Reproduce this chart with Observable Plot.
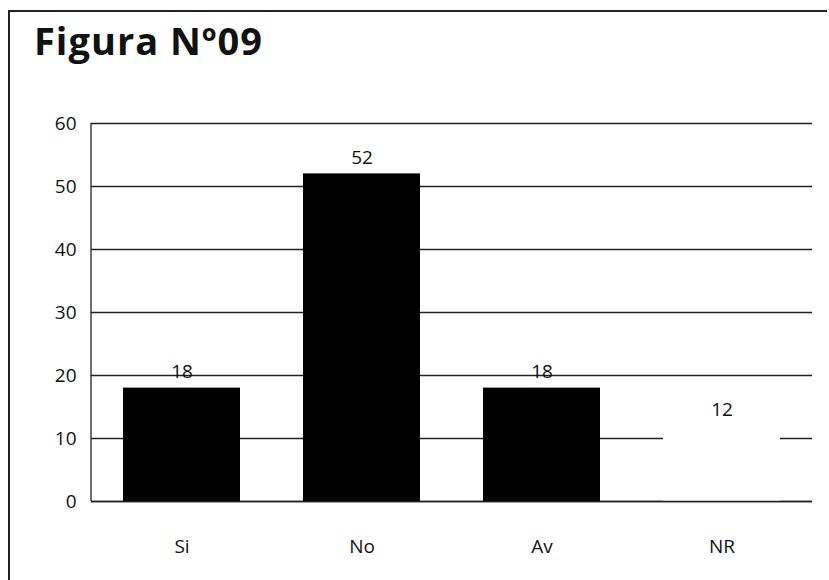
<!DOCTYPE html>
<html>
<head>
<meta charset="utf-8">
<script src="https://cdn.jsdelivr.net/npm/d3@7"></script>
<script src="https://cdn.jsdelivr.net/npm/@observablehq/plot@0.6"></script>
<style>
  html, body { margin: 0; padding: 0; background: #fff; }
  #wrap { position: relative; width: 829px; height: 580px; overflow: hidden; }
  #frame { position: absolute; left: 8px; top: 10px; width: 819px; height: 600px;
           border-left: 2px solid #222; border-top: 2px solid #222; box-sizing: border-box; }
  #title { position: absolute; left: 34px; top: 14px; height: 86px;
           font-family: "Open Sans", sans-serif; font-weight: 700; font-size: 38px; letter-spacing: 1px; color: #111; }
  #chart { position: absolute; left: 0; top: 100px; }
</style>
</head>
<body>
<div id="wrap">
  <div id="frame"></div>
  <div id="title">Figura Nº09</div>
  <div id="chart"></div>
</div>
<script>
const categories = ["Si", "No", "Av", "NR"];
const values = [18, 52, 18, 12];
const barColors = ["#000000", "#000000", "#000000", "#ffffff"];
const yTicks = [0, 10, 20, 30, 40, 50, 60];

const data = categories.map((c, i) => ({cat: c, value: values[i], color: barColors[i]}));

const chart = Plot.plot({
  width: 829,
  height: 480,
  marginLeft: 91,
  marginRight: 17,
  marginTop: 23,
  marginBottom: 79,
  style: {fontFamily: "Open Sans, sans-serif", fontSize: "19px", fontWeight: 500, color: "#111", background: "transparent"},
  x: {domain: categories, paddingInner: 0.35, paddingOuter: 0.175, label: null, tickSize: 0, tickPadding: 38},
  y: {domain: [0, 60], ticks: yTicks, label: null, tickSize: 0, tickPadding: 15},
  marks: [
    Plot.ruleY(yTicks, {stroke: "#222", strokeWidth: 1.3}),
    Plot.barY(data, {x: "cat", y: "value", fill: "color"}),
    Plot.ruleY([0], {stroke: "#222", strokeWidth: 1.5}),
    Plot.text(data, {x: "cat", y: "value", text: d => String(d.value), dy: -16, fontSize: 19, fill: "#111"})
  ]
});
// left axis line along the plot's left edge
const svg = d3.select(chart);
svg.append("line").attr("x1", 91).attr("x2", 91).attr("y1", 23).attr("y2", 401)
  .attr("stroke", "#222").attr("stroke-width", 1.3);
document.getElementById("chart").appendChild(chart);
</script>
</body>
</html>
